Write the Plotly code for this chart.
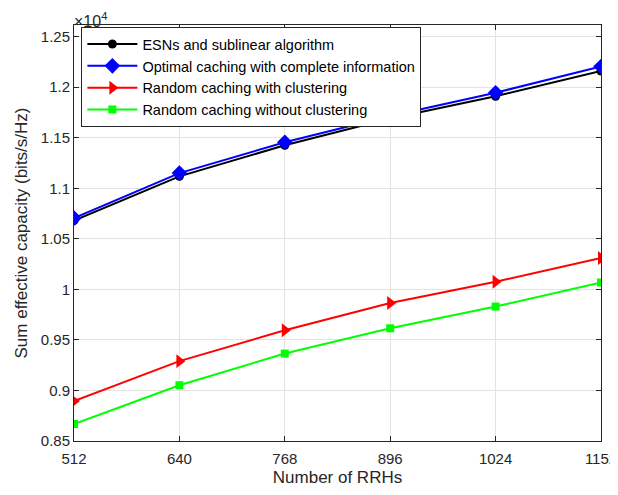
import plotly.graph_objects as go

rrhs = [512, 640, 768, 896, 1024, 1152]
esn = [10680, 11118, 11425, 11690, 11910, 12160]
optimal = [10705, 11150, 11455, 11715, 11945, 12205]
rand_clust = [8895, 9290, 9595, 9865, 10075, 10310]
rand_noclust = [8668, 9052, 9365, 9615, 9830, 10068]

names = ["ESNs and sublinear algorithm",
         "Optimal caching with complete information",
         "Random caching with clustering",
         "Random caching without clustering"]
ytick_vals = [8500, 9000, 9500, 10000, 10500, 11000, 11500, 12000, 12500]
ytick_text = ["0.85", "0.9", "0.95", "1", "1.05", "1.1", "1.15", "1.2", "1.25"]

series = [
    (esn, "#000000", "circle", 9),
    (optimal, "#0000ff", "diamond", 12),
    (rand_clust, "#ff0000", "triangle-right", 12),
    (rand_noclust, "#00ff00", "square", 8),
]

FONT = "Liberation Sans, Arial"

fig = go.Figure()
for (vals, color, sym, sz), name in zip(series, names):
    fig.add_trace(go.Scatter(
        x=rrhs, y=vals, name=name, mode="lines+markers",
        line=dict(color=color, width=2),
        marker=dict(symbol=sym, size=sz, color=color),
    ))

axis_common = dict(
    showline=True, linecolor="#262626", linewidth=1, mirror="ticks",
    ticks="inside", ticklen=5, tickcolor="#262626",
    showgrid=True, gridcolor="#e3e3e3", gridwidth=1, zeroline=False,
    automargin=False, ticklabeloverflow="allow",
    tickfont=dict(family=FONT, size=15, color="#262626"),
)

# the page body has an 8px default margin; compensate so the plot area
# lands at the same place as in the reference window
fig.update_layout(
    width=610, height=479,
    margin=dict(l=66, r=17, t=17, b=46),
    paper_bgcolor="white", plot_bgcolor="white",
    font=dict(family=FONT, color="#262626"),
    xaxis=dict(range=[512, 1152], tickvals=rrhs, ticklabelstandoff=4,
               title=dict(text="Number of RRHs", font=dict(size=17), standoff=7),
               **axis_common),
    yaxis=dict(range=[8500, 12615], tickvals=ytick_vals, ticktext=ytick_text,
               title=dict(text="Sum effective capacity (bits/s/Hz)", font=dict(size=17), standoff=8),
               **axis_common),
    legend=dict(x=0.014, y=0.995, xanchor="left", yanchor="top",
                bgcolor="white", bordercolor="#262626", borderwidth=1,
                font=dict(family=FONT, size=14.5, color="#000000"),
                tracegroupgap=0, itemwidth=50),
    showlegend=True,
)

fig.add_annotation(xref="paper", yref="paper", x=-0.003, y=1.0,
                   xanchor="left", yanchor="bottom", showarrow=False,
                   yshift=-7,
                   text="×10<sup>4</sup>",
                   font=dict(family=FONT, size=16, color="#262626"))

fig.write_html("out.html")
